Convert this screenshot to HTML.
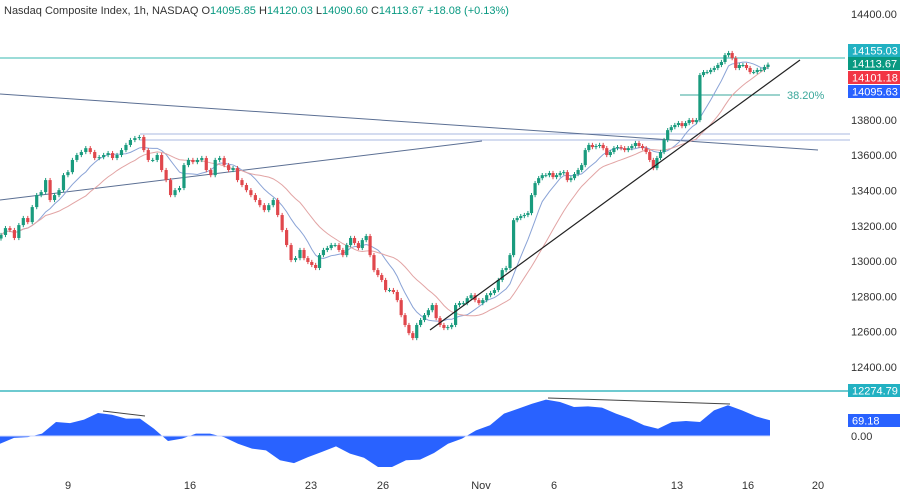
<!DOCTYPE html>
<html><head><meta charset="utf-8"><style>
html,body{margin:0;padding:0;background:#fff;}
#wrap{position:relative;width:900px;height:492px;overflow:hidden;font-family:"Liberation Sans",sans-serif;}
svg{position:absolute;left:0;top:0;}
</style></head><body>
<div id="wrap">
<svg id="chart" width="900" height="492"></svg>
</div>
<script>
const closes=[13148,13187,13176,13131,13204,13244,13221,13306,13374,13391,13459,13346,13374,13402,13487,13504,13573,13601,13618,13640,13618,13584,13589,13601,13612,13584,13601,13629,13658,13686,13697,13703,13629,13573,13573,13601,13516,13459,13374,13402,13414,13544,13573,13561,13573,13584,13516,13487,13573,13584,13544,13516,13527,13459,13431,13402,13374,13346,13317,13289,13317,13346,13261,13176,13091,13006,13017,13063,
13017,12995,12978,12961,13034,13063,13074,13091,13091,13063,13034,13091,13131,13102,13074,13119,13142,13034,12949,12921,12893,12836,12836,12825,12779,12694,12638,12592,12564,12638,12666,12694,12722,12751,12677,12638,12621,12626,12638,12751,12762,12762,12790,12807,12779,12762,12779,12807,12819,12836,12893,12949,12961,13034,
13232,13244,13255,13261,13272,13374,13442,13470,13487,13487,13499,13476,13487,13499,13504,13459,13470,13493,13516,13544,13629,13658,13646,13652,13658,13640,13601,13618,13640,13646,13640,13629,13640,13652,13669,13652,13640,13618,13573,13527,13584,13618,13686,13742,13759,13771,13782,13765,13782,13799,13788,13799,14054,14071,14071,14083,14094,14111,14128,14167,14179,14150,14094,14111,14111,14094,14071,14071,14083,14083,14100,14113];
const oscValues=[-36,-9,-5,11,65,60,76,107,99,81,81,34,-23,-12,11,11,-5,-36,-59,-67,-113,-126,-98,-74,-48,-82,-101,-144,-144,-113,-110,-79,-36,-12,26,50,104,127,150,169,158,135,138,132,104,81,50,34,65,70,65,119,143,119,91,73];
const priceTicks=[14400,13800,13600,13400,13200,13000,12800,12600,12400];
const dateLabels=["9","16","23","26","Nov","6","13","16","20"];
const dateX=[68,190,311,383,481,554,677,748,818];

const svg=document.getElementById('chart');
const NS='http://www.w3.org/2000/svg';
function mk(tag,attrs,parent){const e=document.createElementNS(NS,tag);for(const k in attrs)e.setAttribute(k,attrs[k]);(parent||svg).appendChild(e);return e;}
const yP=p=>14+(14400-p)*0.1765;
const yO=v=>436-v*0.215;
// time axis: piecewise (session density differs across the visible range)
const segIdx=[0,67,68,121,closes.length-1];
const segX=[1,300,304,510,768];
function xC(i){for(let k=0;k<segIdx.length-1;k++){if(i<=segIdx[k+1]){const a=segIdx[k],b=segIdx[k+1];return segX[k]+(b===a?0:(i-a)/(b-a))*(segX[k+1]-segX[k]);}}return segX[segX.length-1];}
const xO=i=>i*(770/(oscValues.length-1));

priceTicks.forEach(p=>{const t=mk('text',{x:851,y:yP(p)+4,'font-size':11,fill:'#333'});t.textContent=p.toFixed(2);

});
dateLabels.forEach((d,i)=>{const t=mk('text',{x:dateX[i],y:489,'font-size':11,fill:'#333','text-anchor':'middle'});t.textContent=d;

});

let l;
l=mk('line',{x1:0,y1:58,x2:845,y2:58,stroke:'#5fc6c0','stroke-width':1.2});

l=mk('line',{x1:140,y1:134,x2:850,y2:134,stroke:'#a9b8e0','stroke-width':1});

l=mk('line',{x1:140,y1:140,x2:850,y2:140,stroke:'#a9b8e0','stroke-width':1});

l=mk('line',{x1:0,y1:94,x2:818,y2:150,stroke:'#5b6f93','stroke-width':1});

l=mk('line',{x1:0,y1:200,x2:482,y2:141,stroke:'#5b6f93','stroke-width':1});

l=mk('line',{x1:680,y1:95,x2:780,y2:95,stroke:'#3aa79b','stroke-width':1});

l=mk('text',{x:787,y:99,'font-size':11,fill:'#3aa79b'});l.textContent='38.20%';


function sma(n){return closes.map((c,i)=>{const s=Math.max(0,i-n+1);let a=0;for(let j=s;j<=i;j++)a+=closes[j];return a/(i-s+1);});}
[[9,'#8aa3d6'],[20,'#e2a4a4']].forEach(([n,c])=>{const m=sma(n);const p=mk('polyline',{points:m.map((v,i)=>xC(i)+','+yP(v)).join(' '),fill:'none',stroke:c,'stroke-width':1});

});

closes.forEach((c,i)=>{const o=i?closes[i-1]:c-20;const up=c>=o;const col=up?'#199b7e':'#e0474c';const x=xC(i);
const hi=Math.max(o,c)+12,lo=Math.min(o,c)-12;
const g=mk('g',{});


mk('line',{x1:x,y1:yP(hi),x2:x,y2:yP(lo),stroke:col,'stroke-width':1},g);
mk('rect',{x:x-1.6,y:yP(Math.max(o,c)),width:3.2,height:Math.max(1,Math.abs(yP(o)-yP(c))),fill:col},g);});

l=mk('line',{x1:430,y1:330,x2:800,y2:60,stroke:'#222','stroke-width':1.2});


l=mk('line',{x1:0,y1:391,x2:848,y2:391,stroke:'#3fb8c0','stroke-width':1.5});


let d='M0,'+yO(0);oscValues.forEach((v,i)=>{d+=' L'+xO(i)+','+yO(v);});d+=' L'+xO(oscValues.length-1)+','+yO(0)+' Z';
l=mk('path',{d:d,fill:'#2962ff','stroke-linejoin':'round'});

l=mk('line',{x1:0,y1:436,x2:770,y2:436,stroke:'#cfd9ff','stroke-width':1});

l=mk('line',{x1:103,y1:411,x2:145,y2:416,stroke:'#444','stroke-width':1});

l=mk('line',{x1:548,y1:398,x2:730,y2:404,stroke:'#444','stroke-width':1});

[['200.00',397],['0.00',440]].forEach(([t,y])=>{l=mk('text',{x:851,y:y,'font-size':11,fill:'#333'});l.textContent=t;
});

function badge(txt,y,bg,name){const g=mk('g',{});
mk('rect',{x:848,y:y,width:52,height:13,fill:bg},g);const t=mk('text',{x:852,y:y+10.5,'font-size':11,fill:'#fff'},g);t.textContent=txt;}
badge('14155.03',44,'#22b1c2','badge-resistance');
badge('14113.67',57,'#089981','badge-last-price');
badge('14101.18',71,'#f23645','badge-ma-slow');
badge('14095.63',85,'#2962ff','badge-ma-fast');
badge('12274.79',384,'#22b1c2','badge-support');
badge('69.18',414,'#2962ff','badge-oscillator');

const h=mk('text',{x:4,y:14,'font-size':11,fill:'#333'});


h.innerHTML='Nasdaq Composite Index, 1h, NASDAQ <tspan fill="#333"> O</tspan><tspan fill="#089981">14095.85</tspan><tspan fill="#333">  H</tspan><tspan fill="#089981">14120.03</tspan><tspan fill="#333">  L</tspan><tspan fill="#089981">14090.60</tspan><tspan fill="#333">  C</tspan><tspan fill="#089981">14113.67  +18.08 (+0.13%)</tspan>';
</script>
</body></html>
